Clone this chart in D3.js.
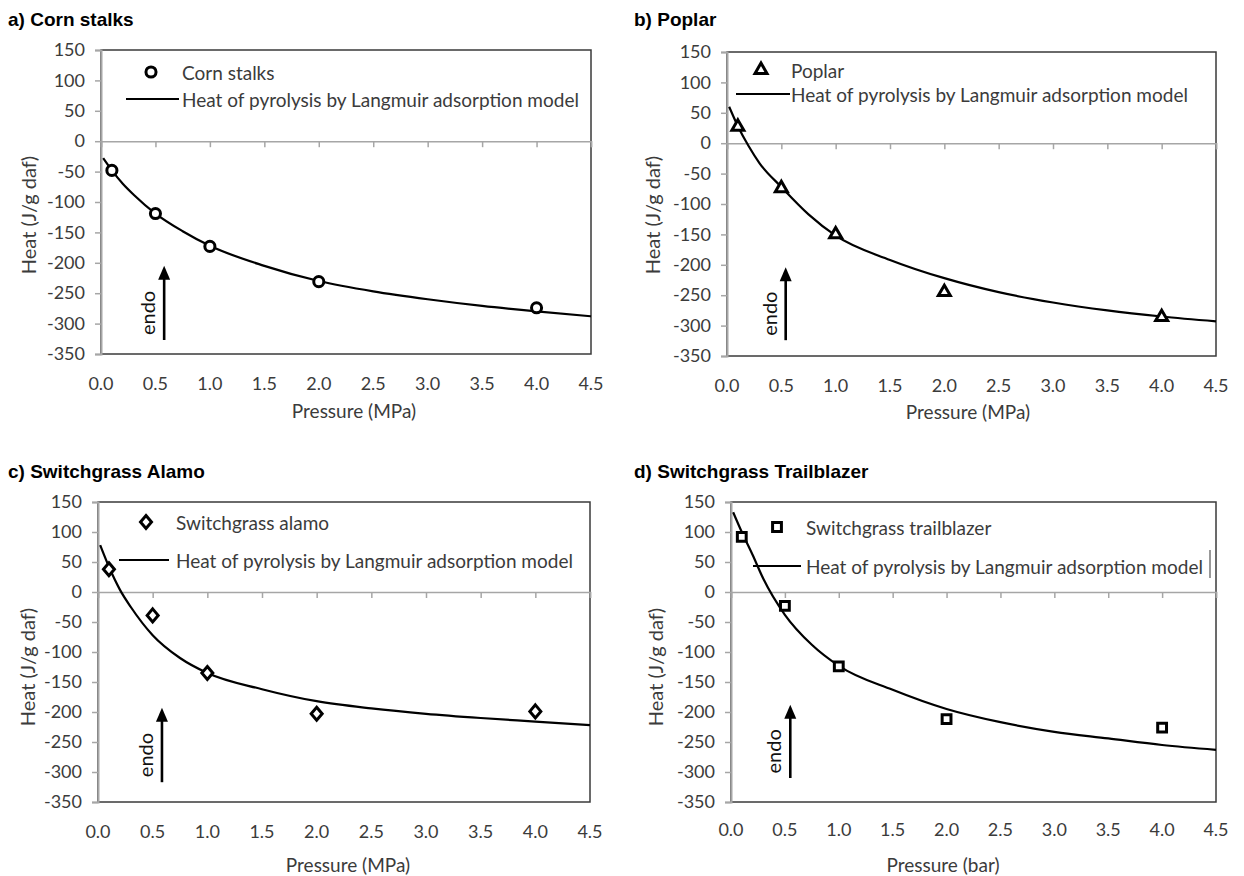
<!DOCTYPE html>
<html>
<head>
<meta charset="utf-8">
<script src="https://cdn.jsdelivr.net/npm/d3@7"></script>
<style>
  body { margin: 0; background: #fff; }
  svg { display: block; }
</style>
</head>
<body>
<svg width="1244" height="876"></svg>
<script>
// measured pressures (MPa / bar)
const pressure = [0.1, 0.5, 1.0, 2.0, 4.0];
const cornStalks = [-48, -119, -173, -231, -274];
const poplar = [27, -74, -150, -245, -286];
const alamo = [38, -39, -135, -203, -199];
const trailblazer = [92, -23, -124, -212, -226];

// Langmuir model curves
const modelP = [0.02, 0.1, 0.2, 0.3, 0.5, 0.75, 1.0, 1.5, 2.0, 2.5, 3.0, 3.5, 4.0, 4.5];
const cornModel = [-28, -48, -70, -88, -119, -148, -172, -205, -230, -247, -260, -271, -280, -288];
const poplarModel = [60, 28, -5, -33, -72, -117, -152, -192, -222, -245, -262, -275, -285, -293];
const alamoModel = [78, 42, 4, -25, -72, -110, -135, -162, -182, -194, -203, -210, -216, -222];
const trailModel = [133, 100, 62, 22, -38, -88, -123, -163, -195, -217, -233, -244, -255, -263];

const xTicks = [0, 0.5, 1.0, 1.5, 2.0, 2.5, 3.0, 3.5, 4.0, 4.5];
const yTicks = [150, 100, 50, 0, -50, -100, -150, -200, -250, -300, -350];

const lineLabel = "Heat of pyrolysis by Langmuir adsorption model";
const tickFont = "Lato, 'Open Sans', sans-serif";
const textColor = "#3b3b3b";

const svg = d3.select("svg");

const panels = [
    { title: "a) Corn stalks", name: "Corn stalks", symbol: "circle", values: cornStalks, model: cornModel,
      unit: "Pressure (MPa)", box: { l: 101, r: 591, t: 50, b: 354 }, tx: 8, ty: 26,
      yTitle: [28, 215], xTitle: [354, 418], xLab: 390,
      leg: { mx: 151, my: 72, lx1: 126, lx2: 179, ly: 99, tx: 182 }, arrow: { x: 0.58, y1: -205, y2: -327 } },
    { title: "b) Poplar", name: "Poplar", symbol: "triangle", values: poplar, model: poplarModel,
      unit: "Pressure (MPa)", box: { l: 727, r: 1216, t: 52, b: 356 }, tx: 634, ty: 26,
      yTitle: [652, 215], xTitle: [968, 419], xLab: 392,
      leg: { mx: 761, my: 70, lx1: 736, lx2: 790, ly: 94, tx: 791 }, arrow: { x: 0.54, y1: -204, y2: -324 } },
    { title: "c) Switchgrass Alamo", name: "Switchgrass alamo", symbol: "diamond", values: alamo, model: alamoModel,
      unit: "Pressure (MPa)", box: { l: 98, r: 590, t: 502, b: 802 }, tx: 8, ty: 478,
      yTitle: [27, 667], xTitle: [348, 872], xLab: 838,
      leg: { mx: 146, my: 522, lx1: 119, lx2: 169, ly: 560, tx: 176 }, arrow: { x: 0.585, y1: -193, y2: -317 } },
    { title: "d) Switchgrass Trailblazer", name: "Switchgrass trailblazer", symbol: "square", values: trailblazer, model: trailModel,
      unit: "Pressure (bar)", box: { l: 731, r: 1216, t: 502, b: 802 }, tx: 634, ty: 478,
      yTitle: [655, 667], xTitle: [943, 872], xLab: 836,
      leg: { mx: 777, my: 527, lx1: 753, lx2: 801, ly: 566, tx: 806, edge: 1210 }, arrow: { x: 0.55, y1: -188, y2: -310 } }
];

function markerPath(sym) {
    if (sym === "diamond") return "M0,-6.5 L5.5,0 L0,6.5 L-5.5,0 Z";
    if (sym === "triangle") return d3.symbol().type(d3.symbolTriangle).size(62)();
    if (sym === "square") return d3.symbol().type(d3.symbolSquare).size(78)();
    return d3.symbol().type(d3.symbolCircle).size(80)();
}

panels.forEach(p => {
    const b = p.box;
    const x = d3.scaleLinear().domain([0, 4.5]).range([b.l, b.r]);
    const y = d3.scaleLinear().domain([-350, 150]).range([b.b, b.t]);
    const g = svg.append("g");

    // panel title
    g.append("text")
        .attr("x", p.tx).attr("y", p.ty)
        .style("font-family", "'Liberation Sans', Arial, sans-serif")
        .style("font-weight", "bold").style("font-size", "19px")
        .text(p.title);

    // plot area border
    g.append("rect")
        .attr("x", b.l).attr("y", b.t)
        .attr("width", b.r - b.l).attr("height", b.b - b.t)
        .attr("fill", "none").attr("stroke", "#3a3a3a").attr("stroke-width", 1.5);

    // y axis
    const yAxis = g.append("g")
        .attr("transform", `translate(${b.l},0)`)
        .call(d3.axisLeft(y).tickValues(yTicks).tickSize(6).tickPadding(10).tickFormat(d3.format("d")));
    yAxis.select(".domain").attr("stroke", "#a6a6a6").attr("stroke-width", 2);
    yAxis.selectAll(".tick line").attr("stroke", "#a6a6a6").attr("stroke-width", 1.5);
    yAxis.selectAll(".tick text")
        .style("font-family", tickFont).style("font-size", "18px").attr("fill", textColor)
        .text(d => d < 0 ? "-" + Math.abs(d) : d);

    // x axis along y = 0, labels at the bottom
    const xAxis = g.append("g")
        .attr("transform", `translate(0,${y(0)})`)
        .call(d3.axisBottom(x).tickValues(xTicks).tickSize(6).tickFormat(""));
    xAxis.select(".domain").attr("stroke", "#a6a6a6").attr("stroke-width", 1.5);
    xAxis.selectAll(".tick line").attr("stroke", "#a6a6a6").attr("stroke-width", 1.5);

    g.selectAll(".xlab")
        .data(xTicks)
        .join("text")
        .attr("x", d => x(d)).attr("y", p.xLab)
        .attr("text-anchor", "middle")
        .style("font-family", tickFont).style("font-size", "18px").attr("fill", textColor)
        .text(d => d.toFixed(1));

    // axis titles
    g.append("text")
        .attr("transform", `translate(${p.yTitle[0]},${p.yTitle[1]}) rotate(-90)`)
        .attr("text-anchor", "middle").attr("dominant-baseline", "central")
        .style("font-family", tickFont).style("font-size", "20px").attr("fill", textColor)
        .text("Heat (J/g daf)");
    g.append("text")
        .attr("x", p.xTitle[0]).attr("y", p.xTitle[1])
        .attr("text-anchor", "middle")
        .style("font-family", tickFont).style("font-size", "19px").attr("fill", textColor)
        .text(p.unit);

    // model curve
    const line = d3.line()
        .x((d, i) => x(modelP[i]))
        .y(d => y(d))
        .curve(d3.curveMonotoneX);
    g.append("path")
        .datum(p.model)
        .attr("d", line)
        .attr("fill", "none").attr("stroke", "#000").attr("stroke-width", 2.2);

    // measured points
    g.selectAll(".pt")
        .data(p.values)
        .join("path")
        .attr("transform", (d, i) => `translate(${x(pressure[i])},${y(d)})`)
        .attr("d", markerPath(p.symbol))
        .attr("fill", "#fff").attr("stroke", "#000").attr("stroke-width", 3);

    // endo arrow
    const ax = x(p.arrow.x), ay1 = y(p.arrow.y1), ay2 = y(p.arrow.y2);
    g.append("line")
        .attr("x1", ax).attr("x2", ax).attr("y1", ay1 + 10).attr("y2", ay2)
        .attr("stroke", "#000").attr("stroke-width", 2.6);
    g.append("path")
        .attr("d", `M${ax},${ay1} L${ax - 6},${ay1 + 14} L${ax + 6},${ay1 + 14} Z`)
        .attr("fill", "#000");
    g.append("text")
        .attr("transform", `translate(${ax - 17},${(ay1 + ay2) / 2 + 10}) rotate(-90)`)
        .attr("text-anchor", "middle").attr("dominant-baseline", "central")
        .style("font-family", tickFont).style("font-size", "20px").attr("fill", "#111")
        .text("endo");

    // legend
    const L = p.leg;
    g.append("path")
        .attr("transform", `translate(${L.mx},${L.my})`)
        .attr("d", markerPath(p.symbol))
        .attr("fill", "#fff").attr("stroke", "#000").attr("stroke-width", 3);
    g.append("text")
        .attr("x", L.tx).attr("y", L.my).attr("dominant-baseline", "central")
        .style("font-family", tickFont).style("font-size", "19px").attr("fill", textColor)
        .text(p.name);
    g.append("line")
        .attr("x1", L.lx1).attr("x2", L.lx2).attr("y1", L.ly).attr("y2", L.ly)
        .attr("stroke", "#000").attr("stroke-width", 2.2);
    g.append("text")
        .attr("x", L.tx).attr("y", L.ly).attr("dominant-baseline", "central")
        .style("font-family", tickFont).style("font-size", "19px").attr("fill", textColor)
        .text(lineLabel);
    if (L.edge) {
        // right edge of the legend frame that shows in panel d
        g.append("line")
            .attr("x1", L.edge).attr("x2", L.edge).attr("y1", L.ly - 16).attr("y2", L.ly + 12)
            .attr("stroke", "#555").attr("stroke-width", 1.2);
    }
});
</script>
</body>
</html>
